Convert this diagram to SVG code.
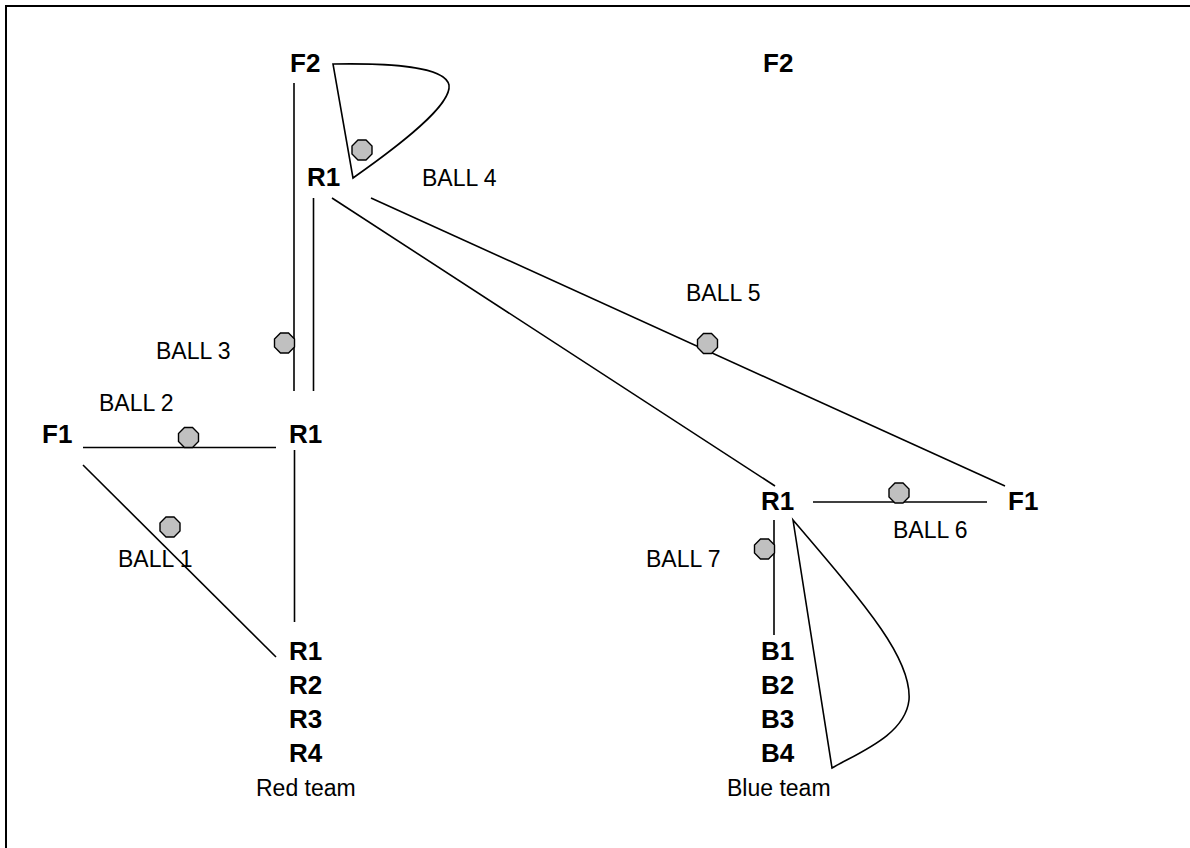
<svg xmlns="http://www.w3.org/2000/svg" xmlns:xlink="http://www.w3.org/1999/xlink" width="1190" height="848" viewBox="0 0 1190 848">
<style>
.b{font-family:"Liberation Sans",Arial,sans-serif;font-weight:bold;font-size:26px;fill:#000}
.t{font-family:"Liberation Sans",Arial,sans-serif;font-size:23px;fill:#000}
.c{stroke:#000;stroke-width:1.6;fill:none}
.ball{fill:#c0c0c0;stroke:#000;stroke-width:1.4}
</style>
<defs>
<polygon id="ball" class="ball" points="-4,-10 4,-10 10,-4 10,4 4,10 -4,10 -10,4 -10,-4"/>
</defs>
<rect x="6" y="6" width="1200" height="860" fill="#fff" stroke="#000" stroke-width="2"/>
<g id="connectors" class="c">
<line x1="294" y1="83" x2="294" y2="391"/>
<line x1="313.5" y1="198" x2="313.5" y2="391"/>
<path d="M333,64 C390,63 445,66 449,85 C452,105 400,145 353,178 Z"/>
<line x1="332" y1="198" x2="775" y2="486"/>
<line x1="371" y1="198" x2="1005" y2="486"/>
<line x1="83" y1="447.5" x2="276" y2="447.5"/>
<line x1="294.5" y1="450" x2="294.5" y2="622"/>
<line x1="83" y1="465" x2="276" y2="657"/>
<line x1="813" y1="502" x2="987" y2="502"/>
<line x1="774" y1="520" x2="774" y2="635"/>
<path d="M793,520 L832,768 C860,752 905,735 909,700 C912,660 870,610 793,520 Z"/>
</g>
<g id="balls">
<use xlink:href="#ball" x="170" y="527"/>
<use xlink:href="#ball" x="188.5" y="437.5"/>
<use xlink:href="#ball" x="284.5" y="343"/>
<use xlink:href="#ball" x="362" y="150"/>
<use xlink:href="#ball" x="707.5" y="343.5"/>
<use xlink:href="#ball" x="899" y="493"/>
<use xlink:href="#ball" x="764.5" y="549"/>
</g>
<g id="node-f2-left"><text class="b" x="290" y="72">F2</text></g>
<g id="node-f2-right"><text class="b" x="763" y="72">F2</text></g>
<g id="node-r1-top"><text class="b" x="307" y="186">R1</text></g>
<g id="node-f1-left"><text class="b" x="42" y="443">F1</text></g>
<g id="node-r1-mid"><text class="b" x="289" y="443">R1</text></g>
<g id="node-r1-right"><text class="b" x="761" y="510">R1</text></g>
<g id="node-f1-right"><text class="b" x="1008" y="510">F1</text></g>
<g id="node-red-team">
<text class="b" x="289" y="660">R1</text>
<text class="b" x="289" y="694">R2</text>
<text class="b" x="289" y="728">R3</text>
<text class="b" x="289" y="762">R4</text>
<text class="t" x="256" y="796">Red team</text>
</g>
<g id="node-blue-team">
<text class="b" x="761" y="660">B1</text>
<text class="b" x="761" y="694">B2</text>
<text class="b" x="761" y="728">B3</text>
<text class="b" x="761" y="762">B4</text>
<text class="t" x="727" y="796">Blue team</text>
</g>
<g id="labels">
<text class="t" x="118" y="567">BALL 1</text>
<text class="t" x="99" y="411">BALL 2</text>
<text class="t" x="156" y="359">BALL 3</text>
<text class="t" x="422" y="186">BALL 4</text>
<text class="t" x="686" y="301">BALL 5</text>
<text class="t" x="893" y="538">BALL 6</text>
<text class="t" x="646" y="567">BALL 7</text>
</g>
</svg>
